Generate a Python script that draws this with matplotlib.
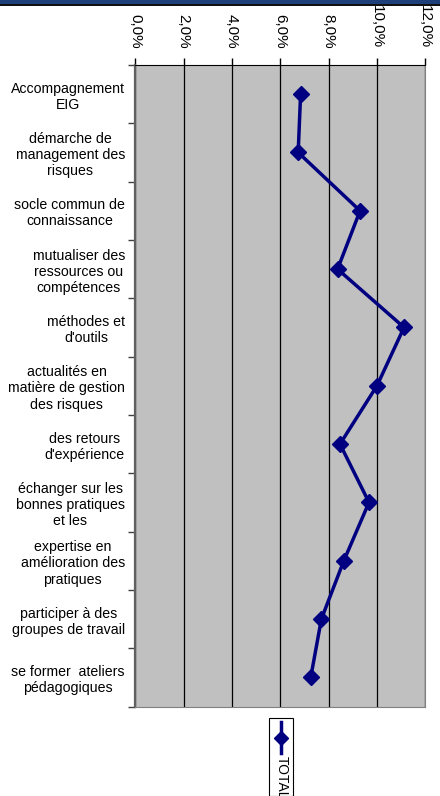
import matplotlib.pyplot as plt
from matplotlib.lines import Line2D
from matplotlib.patches import Rectangle
from matplotlib.ticker import FuncFormatter

plt.rcParams['font.family'] = ['Liberation Sans', 'DejaVu Sans']

categories = ["Accompagnement\nEIG",
              "démarche de\nmanagement des\nrisques",
              "socle commun de\nconnaissance",
              "mutualiser des\nressources ou\ncompétences",
              "méthodes et\nd'outils",
              "actualités en\nmatière de gestion\ndes risques",
              "des retours\nd'expérience",
              "échanger sur les\nbonnes pratiques\net les",
              "expertise en\namélioration des\npratiques",
              "participer à des\ngroupes de travail",
              "se former  ateliers\npédagogiques"]
total = [0.0684, 0.0674, 0.0930, 0.0837, 0.1112, 0.1000,
         0.0847, 0.0967, 0.0863, 0.0770, 0.0726]
xticks = [0, 0.02, 0.04, 0.06, 0.08, 0.10, 0.12]

W, H = 440, 796
fig = plt.figure(figsize=(W / 100, H / 100), dpi=100)

# bandeau en haut
fig.patches.append(Rectangle((0, 1 - 4 / H), 1, 4 / H, transform=fig.transFigure,
                             facecolor='#1f3f7a', edgecolor='none'))
fig.patches.append(Rectangle((0, 1 - 5.5 / H), 1, 1.5 / H, transform=fig.transFigure,
                             facecolor='#101010', edgecolor='none'))

ax = fig.add_axes([135.3 / W, 1 - 706.5 / H, 290 / W, 641.5 / H])
ax.set_facecolor('#c0c0c0')

pos = list(range(len(categories)))
ax.plot(total, pos, color='#000080', lw=2.5, marker='D', ms=8, zorder=3)

ax.set_xlim(0, 0.12)
ax.set_ylim(len(categories) - 0.5, -0.5)
ax.set_xticks(xticks)
ax.xaxis.set_major_formatter(FuncFormatter(lambda v, p: ('%.1f%%' % (v * 100)).replace('.', ',')))
ax.xaxis.tick_top()
ax.tick_params(axis='x', direction='out', length=5, width=1, pad=7, labelsize=11, labelrotation=270)
for lab in ax.get_xticklabels():
    lab.set_va('bottom')
    lab.set_ha('center')
ax.grid(axis='x', color='black', lw=0.9)

ax.set_yticks(pos)
ax.set_yticklabels(categories, fontsize=10.2, multialignment='center', linespacing=1.2)
ax.set_yticks([p - 0.5 for p in pos] + [len(pos) - 0.5], minor=True)
ax.tick_params(axis='y', which='major', length=0, pad=7.5)
ax.tick_params(axis='y', which='minor', length=5, width=1, color='#404040')

ax.spines['left'].set_color('#606060')
ax.spines['left'].set_linewidth(1.6)
ax.spines['top'].set_color('black')
ax.spines['right'].set_color('#808080')
ax.spines['bottom'].set_color('#808080')

# legende
fig.patches.append(Rectangle((269 / W, 0), 24 / W, 1 - 718 / H, transform=fig.transFigure,
                             facecolor='white', edgecolor='black', lw=0.8))
fig.lines.append(Line2D([281 / W, 281 / W], [1 - 722 / H, 1 - 753 / H], transform=fig.transFigure,
                        color='#000080', lw=2.5))
fig.lines.append(Line2D([281 / W], [1 - 738 / H], transform=fig.transFigure,
                        color='#000080', marker='D', ms=7))
fig.text(282 / W, 1 - 756 / H, 'TOTAL', rotation=270, ha='center', va='top', fontsize=10)

fig.savefig('out.png', dpi=100)
